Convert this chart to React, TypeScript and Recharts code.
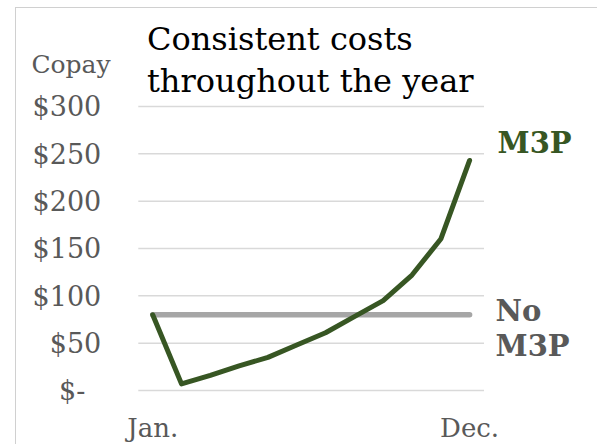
import React from "react";
import { LineChart, Line, XAxis, YAxis, CartesianGrid, LabelList } from "recharts";

const months = ["Jan.", "Feb.", "Mar.", "Apr.", "May", "Jun.", "Jul.", "Aug.", "Sep.", "Oct.", "Nov.", "Dec."];
const m3pCopay = [80, 7, 16, 26, 35, 48, 61, 78, 95, 122, 160, 243];
const noM3pCopay = [80, 80, 80, 80, 80, 80, 80, 80, 80, 80, 80, 80];
const yTicks = [0, 50, 100, 150, 200, 250, 300];
const xTickLabels = ["Jan.", "Dec."];
const titleLines = ["Consistent costs", "throughout the year"];
const yAxisTitle = "Copay";
const m3pLabel = ["M3P"];
const noM3pLabel = ["No", "M3P"];

const data = months.map((m, i) => ({ month: m, m3p: m3pCopay[i], noM3p: noM3pCopay[i] }));

const FONT = "'DejaVu Serif', serif";
const GREEN = "#375623";
const GRAY_TEXT = "#595959";

const YTick = (props: any) => {
  const { x, y, payload } = props;
  const v = payload.value;
  const label = v === 0 ? "$-" : "$" + v;
  return (
    <text x={x} y={y} dx={v === 0 ? -16 : 0} dy="0.36em" textAnchor="end" fill={GRAY_TEXT} fontFamily={FONT} fontSize={27}>
      {label}
    </text>
  );
};

const XTick = (props: any) => {
  const { x, y, payload } = props;
  return (
    <text x={x} y={y} textAnchor="middle" fill={GRAY_TEXT} fontFamily={FONT} fontSize={26}>
      {payload.value}
    </text>
  );
};

const makeEndLabel = (lines: string[], color: string, dx: number, dy: number, lineGap: number) => (props: any) => {
  const { x, y, index } = props;
  if (index !== data.length - 1) return null;
  return (
    <text x={x + dx} y={y + dy} fill={color} fontFamily={FONT} fontSize={29} fontWeight="bold">
      {lines.map((l, i) => (
        <tspan key={i} x={x + dx} dy={i === 0 ? 0 : lineGap}>
          {l}
        </tspan>
      ))}
    </text>
  );
};

export default function App() {
  return (
    <div style={{ position: "absolute", left: 0, top: 0, width: 597, height: 444, background: "#fff", overflow: "hidden" }}>
      <div
        style={{
          position: "absolute",
          left: 15,
          top: 7,
          width: 700,
          height: 600,
          borderLeft: "1px solid #d0d0d0",
          borderTop: "1px solid #d0d0d0",
        }}
      />
      <LineChart width={597} height={444} data={data} margin={{ top: 106.5, right: 113, bottom: 13.5, left: 0 }}>
        <CartesianGrid vertical={false} stroke="#d9d9d9" strokeWidth={1.5} />
        <XAxis
          dataKey="month"
          ticks={xTickLabels}
          interval={0}
          axisLine={false}
          tickLine={false}
          tickSize={0}
          tickMargin={46}
          height={40}
          padding={{ left: 14.4, right: 14.4 }}
          tick={<XTick />}
        />
        <YAxis
          domain={[0, 300]}
          ticks={yTicks}
          width={138.3}
          axisLine={false}
          tickLine={false}
          tickSize={0}
          tickMargin={37}
          tick={<YTick />}
        />
        <Line
          type="linear"
          dataKey="noM3p"
          stroke="#a6a6a6"
          strokeWidth={5.5}
          strokeLinecap="round"
          dot={false}
          isAnimationActive={false}
        >
          <LabelList dataKey="noM3p" content={makeEndLabel(noM3pLabel, GRAY_TEXT, 26, 6, 35)} />
        </Line>
        <Line
          type="linear"
          dataKey="m3p"
          stroke={GREEN}
          strokeWidth={5}
          strokeLinecap="round"
          strokeLinejoin="round"
          dot={false}
          isAnimationActive={false}
        >
          <LabelList dataKey="m3p" content={makeEndLabel(m3pLabel, GREEN, 28, -7, 35)} />
        </Line>
      </LineChart>
      <svg width={597} height={444} style={{ position: "absolute", left: 0, top: 0, pointerEvents: "none" }}>
        <text x={71} y={73.3} textAnchor="middle" fill={GRAY_TEXT} fontFamily={FONT} fontSize={25}>
          {yAxisTitle}
        </text>
        <text fill="#000" fontFamily={FONT} fontSize={32}>
          {titleLines.map((l, i) => (
            <tspan key={i} x={147} y={50 + i * 41.7}>
              {l}
            </tspan>
          ))}
        </text>
      </svg>
    </div>
  );
}
